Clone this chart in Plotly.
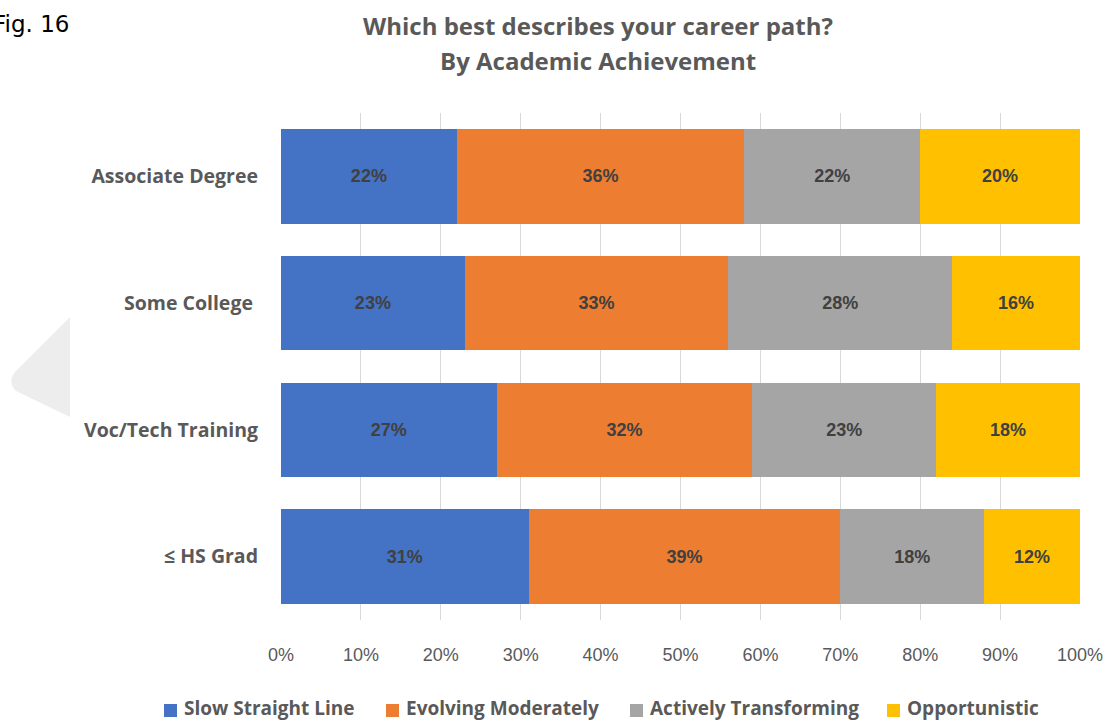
import plotly.graph_objects as go

# Academic achievement groups (top to bottom as drawn)
groups = ["Associate Degree", "Some College\u00a0", "Voc/Tech Training", "\u2264 HS Grad"]

# Share of respondents per career-path description (%)
series_names = ["Slow Straight Line", "Evolving Moderately", "Actively Transforming", "Opportunistic"]
slow_straight = [22, 23, 27, 31]
evolving = [36, 33, 32, 39]
transforming = [22, 28, 23, 18]
opportunistic = [20, 16, 18, 12]

colors = ["#4472C4", "#ED7D31", "#A5A5A5", "#FFC000"]
x_ticks = list(range(0, 101, 10))

title_lines = ["Which best describes your career path?", "By Academic Achievement"]

W, H = 1107, 721
L, R, T, B = 281, 27, 113, 101
PW, PH = W - L - R, H - T - B

LABEL_FONT = "Open Sans, Lato, sans-serif"
GREY_TXT = "#595959"


def px_x(px):
    return (px - L) / PW


def px_y(py):
    return (H - B - py) / PH


fig = go.Figure()
for name, vals, col in zip(series_names, [slow_straight, evolving, transforming, opportunistic], colors):
    fig.add_trace(go.Bar(
        y=groups, x=vals, name=name, orientation="h",
        marker=dict(color=col, line=dict(width=0)),
        width=0.745,
        text=[f"{v}%" for v in vals],
        textposition="inside", insidetextanchor="middle",
        textfont=dict(family="Liberation Sans, Arial, sans-serif", size=18, color="#404040", weight="bold"),
        textangle=0,
        hoverinfo="skip",
        showlegend=False,
    ))

# Light grey pointer shape at the left edge
path = (f"M {px_x(70)},{px_y(317)} L {px_x(15)},{px_y(372)} "
        f"Q {px_x(7)},{px_y(382)} {px_x(16)},{px_y(391)} "
        f"L {px_x(70)},{px_y(417)} Z")
fig.add_shape(type="path", path=path, xref="paper", yref="paper",
              fillcolor="#EDEDED", line=dict(width=0), layer="below")

annotations = []

# Two-line chart title
for line, yc in zip(title_lines, [25, 61]):
    annotations.append(dict(
        text=line, xref="paper", yref="paper", x=px_x(598), xanchor="center",
        y=px_y(yc), yanchor="middle", showarrow=False,
        font=dict(family=LABEL_FONT, size=24, color=GREY_TXT, weight="bold"),
    ))

# Figure number in the top-left corner
annotations.append(dict(
    text="Fig. 16", xref="paper", yref="paper",
    x=px_x(71), xanchor="right", y=px_y(24), yanchor="middle",
    showarrow=False,
    font=dict(family="DejaVu Sans, Verdana, sans-serif", size=23, color="#000000"),
))

# Legend row along the bottom edge
legend_x = [164, 386, 630, 887]
for name, col, lx in zip(series_names, colors, legend_x):
    fig.add_shape(type="rect", xref="paper", yref="paper",
                  x0=px_x(lx), x1=px_x(lx + 13), y0=px_y(704), y1=px_y(717),
                  fillcolor=col, line=dict(width=0))
    annotations.append(dict(
        text=name, xref="paper", yref="paper", x=px_x(lx + 18), xanchor="left",
        y=px_y(708), yanchor="middle", showarrow=False,
        font=dict(family=LABEL_FONT, size=19, color=GREY_TXT, weight="bold"),
    ))

fig.update_layout(
    width=W, height=H,
    barmode="stack",
    plot_bgcolor="white", paper_bgcolor="white",
    margin=dict(l=L, r=R, t=T, b=B, autoexpand=False),
    xaxis=dict(
        range=[0, 100], tickvals=x_ticks, ticktext=[f"{v}%" for v in x_ticks],
        showgrid=True, gridcolor="#D9D9D9", gridwidth=1,
        zeroline=False, showline=False, ticks="",
        ticklabelstandoff=22,
        tickfont=dict(family="Liberation Sans, Arial, sans-serif", size=18, color=GREY_TXT),
        fixedrange=True,
    ),
    yaxis=dict(
        categoryorder="array", categoryarray=groups, autorange="reversed",
        showgrid=False, zeroline=False, showline=False, ticks="",
        ticklabelstandoff=22,
        tickfont=dict(family=LABEL_FONT, size=19.5, color=GREY_TXT, weight="bold"),
        fixedrange=True,
    ),
    showlegend=False,
    annotations=annotations,
)

fig.write_html("out.html")
